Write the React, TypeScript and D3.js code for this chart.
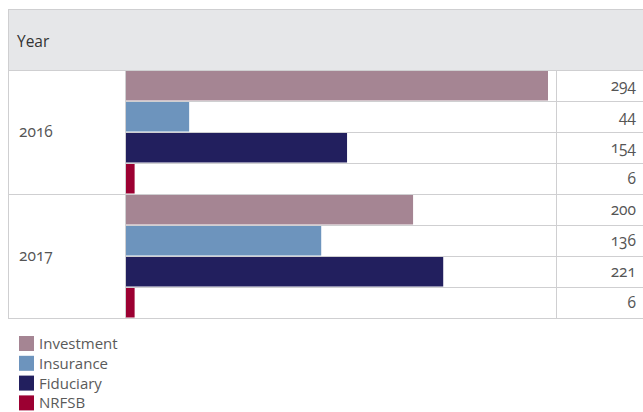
import React from "react";
import * as d3 from "d3";

const years = ["2016", "2017"];
const seriesNames = ["Investment", "Insurance", "Fiduciary", "NRFSB"];
const colors = ["#a58593", "#6d94bd", "#221f5e", "#9c0032"];
const values2016 = [294, 44, 154, 6];
const values2017 = [200, 136, 221, 6];
const headerLabel = "Year";

const allValues = [values2016, values2017];

export default function App() {
  const W = 643, H = 412;
  const left = 8, colYearEnd = 125, colBarEnd = 556, right = 643;
  const top = 9, headerBottom = 70, rowH = 31;
  const rows: { year: string; series: number; value: number; key: string }[] = [];
  years.forEach((y, i) => {
    seriesNames.forEach((s, j) => {
      rows.push({ year: y, series: j, value: allValues[i][j], key: y + "-" + s });
    });
  });
  const yBand = d3.scaleBand<string>().domain(rows.map(r => r.key)).range([headerBottom, headerBottom + rowH * rows.length]).padding(0);
  const x = d3.scaleLinear().domain([0, 294]).range([colYearEnd + 1, 548]);
  const bodyBottom = headerBottom + rowH * rows.length;
  const groupH = rowH * seriesNames.length;
  const font = "'Open Sans', 'Noto Sans', sans-serif";
  const grid = "#cfcfd1";
  return (
    <svg width={W} height={H} style={{ position: "absolute", left: 0, top: 0 }} fontFamily={font}>
      <rect x={0} y={0} width={W} height={H} fill="#fff" />
      {/* header */}
      <rect x={left} y={top} width={right - left} height={headerBottom - top} fill="#e6e7e9" />
      <line x1={left} x2={right} y1={top + 0.5} y2={top + 0.5} stroke={grid} />
      <text x={17} y={47} fontSize={15.5} fill="#333">{headerLabel}</text>
      {/* bars */}
      {rows.map(r => (
        <rect key={r.key} x={x(0)} y={(yBand(r.key) as number) + 1} width={x(r.value) - x(0)} height={yBand.bandwidth() - 1.5} fill={colors[r.series]} />
      ))}
      {/* row lines */}
      {rows.map((r, i) => (
        <line key={"l" + i} x1={i % 4 === 0 ? left : colYearEnd} x2={right} y1={(yBand(r.key) as number) + 0.5} y2={(yBand(r.key) as number) + 0.5} stroke={grid} />
      ))}
      <line x1={left} x2={right} y1={bodyBottom + 0.5} y2={bodyBottom + 0.5} stroke={grid} />
      {/* vertical lines */}
      <line x1={left + 0.5} x2={left + 0.5} y1={top} y2={bodyBottom} stroke={grid} />
      <line x1={colYearEnd + 0.5} x2={colYearEnd + 0.5} y1={headerBottom} y2={bodyBottom} stroke={grid} />
      <line x1={colBarEnd + 0.5} x2={colBarEnd + 0.5} y1={headerBottom} y2={bodyBottom} stroke={grid} />
      {/* year labels */}
      {years.map((y, i) => (
        <text key={y} x={19} y={headerBottom + groupH * i + groupH / 2 + 5} fontSize={15.5} fill="#555" style={{ fontVariantNumeric: "oldstyle-nums" }}>{y}</text>
      ))}
      {/* values */}
      {rows.map(r => (
        <text key={"v" + r.key} x={636} y={(yBand(r.key) as number) + rowH / 2 + 5} textAnchor="end" fontSize={15.5} fill="#555" style={{ fontVariantNumeric: "oldstyle-nums" }}>{r.value}</text>
      ))}
      {/* legend */}
      {seriesNames.map((s, i) => (
        <g key={s} transform={`translate(19, ${336 + i * 19.8})`}>
          <rect x={0} y={0} width={15} height={15} fill={colors[i]} />
          <text x={20} y={13} fontSize={15} fill="#5a5a5a">{s}</text>
        </g>
      ))}
    </svg>
  );
}
